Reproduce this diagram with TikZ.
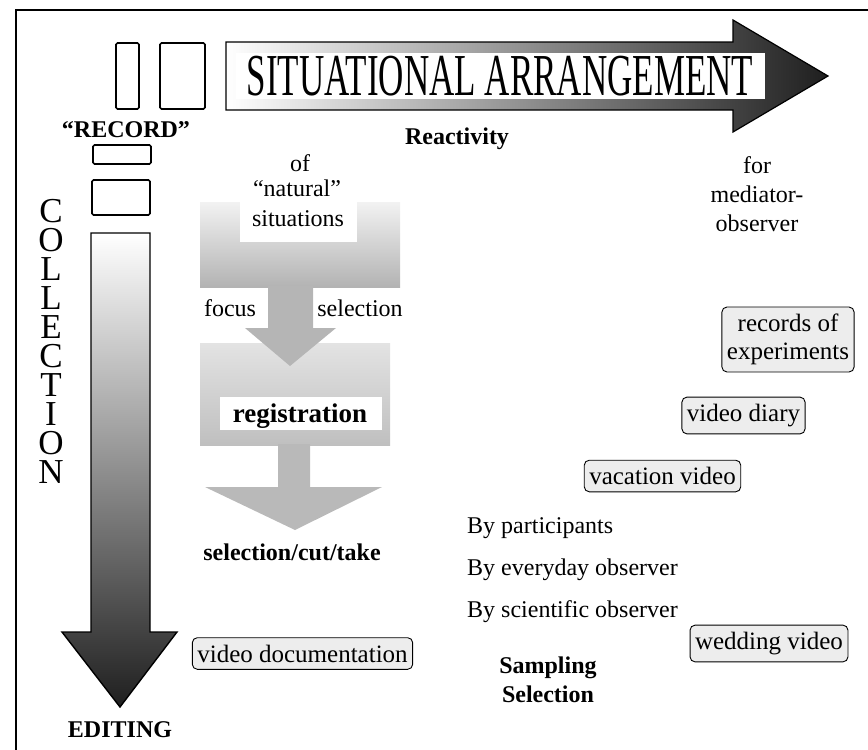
\documentclass[tikz,border=0pt]{standalone}
\usepackage{fontspec}
\setmainfont{Liberation Serif}
\usetikzlibrary{positioning}
\begin{document}
\begin{tikzpicture}[x=1pt,y=-1pt,
    txt/.style={inner sep=0pt, anchor=base, font=\fontsize{24}{29}\selectfont},
    btxt/.style={txt, font=\fontsize{24}{29}\selectfont\bfseries},
    tag/.style={draw, line width=0.9pt, rounded corners=5pt, fill=gray!14, inner xsep=5pt, inner ysep=7pt,
      align=center, font=\fontsize{25}{28}\selectfont},
    box/.style={line width=1.6pt, rounded corners=1.5pt}]
  \useasboundingbox (0,0) rectangle (868,750);
  % frame
  \draw[line width=1.6pt] (16,750) -- (16,10) -- (868,10);
  % record boxes
  \draw[box] (116,43) rectangle (139,109);
  \draw[box] (160,43) rectangle (205,109);
  \draw[box] (93,145) rectangle (151,164);
  \draw[box] (92,180) rectangle (150,215);
  % situational arrangement arrow
  \shadedraw[left color=white, right color=black!88, line width=1.2pt]
    (226,42) -- (733,42) -- (733,20) -- (828,76) -- (733,132) -- (733,110) -- (226,110) -- cycle;
  \node[fill=white, minimum width=529pt, minimum height=46pt, inner sep=0pt] (sit) at (500,76)
    {\scalebox{1}[1.7]{\fontsize{35}{40}\selectfont SITUATIONAL ARRANGEMENT}};
  % collection arrow
  \shadedraw[top color=white, bottom color=black!88, line width=1.4pt]
    (91,233) -- (150,233) -- (150,632) -- (177,632) -- (120,707) -- (62,632) -- (91,632) -- cycle;
  \node[txt, align=center, font=\fontsize{35}{29}\selectfont] (coll) at (51,483)
    {C\\O\\L\\L\\E\\C\\T\\I\\O\\N};
  % registration flow
  \shade[top color=gray!10, bottom color=gray!60] (200,202) rectangle (400,287);
  \shade[top color=gray!22, bottom color=gray!50] (200,343) rectangle (390,445);
  \fill[gray!58] (268,286) -- (313,286) -- (313,328) -- (336,328) -- (290,366) -- (245,328) -- (268,328) -- cycle;
  \fill[gray!55] (278,444) -- (310,444) -- (310,487) -- (382,487) -- (295,530) -- (205,487) -- (278,487) -- cycle;
  \node[fill=white, minimum width=117pt, minimum height=42pt, inner sep=0pt] (sitbox) at (298.5,221) {};
  \node[txt] (situ) at (298,226) {situations};
  \node[txt] (nat) at (297,196) {“natural”};
  \node[txt] (of) at (300,171) {of};
  \node[txt] (focus) at (230,316) {focus};
  \node[txt] (sel) at (360,316) {selection};
  \node[fill=white, minimum width=162pt, minimum height=33pt, inner sep=0pt] (regbox) at (301,413.5) {};
  \node[txt, font=\fontsize{27}{30}\selectfont\bfseries] (reg) at (300,422) {registration};
  \node[btxt] (cut) at (292,560) {selection/cut/take};
  % labels
  \node[btxt] (rec) at (126,137) {“RECORD”};
  \node[btxt] (react) at (457,144) {Reactivity};
  \node[btxt] (edit) at (120,737) {EDITING};
  \node[txt, align=center] (med) at (757,231) {for\\mediator-\\observer};
  \node[txt, anchor=base west] (part) at (467,533) {By participants};
  \node[txt, anchor=base west] (every) at (467,575) {By everyday observer};
  \node[txt, anchor=base west] (sci) at (467,617) {By scientific observer};
  \node[btxt, align=center] (samp) at (548,702) {Sampling\\Selection};
  % video types
  \node[tag] (doc) at (302.5,653.5) {video documentation};
  \node[tag] (exp) at (788,339.5) {records of\\experiments};
  \node[tag] (diary) at (743.5,415.5) {video diary};
  \node[tag] (vac) at (662.5,476) {vacation video};
  \node[tag] (wed) at (769,643.5) {wedding video};
\end{tikzpicture}
\end{document}
